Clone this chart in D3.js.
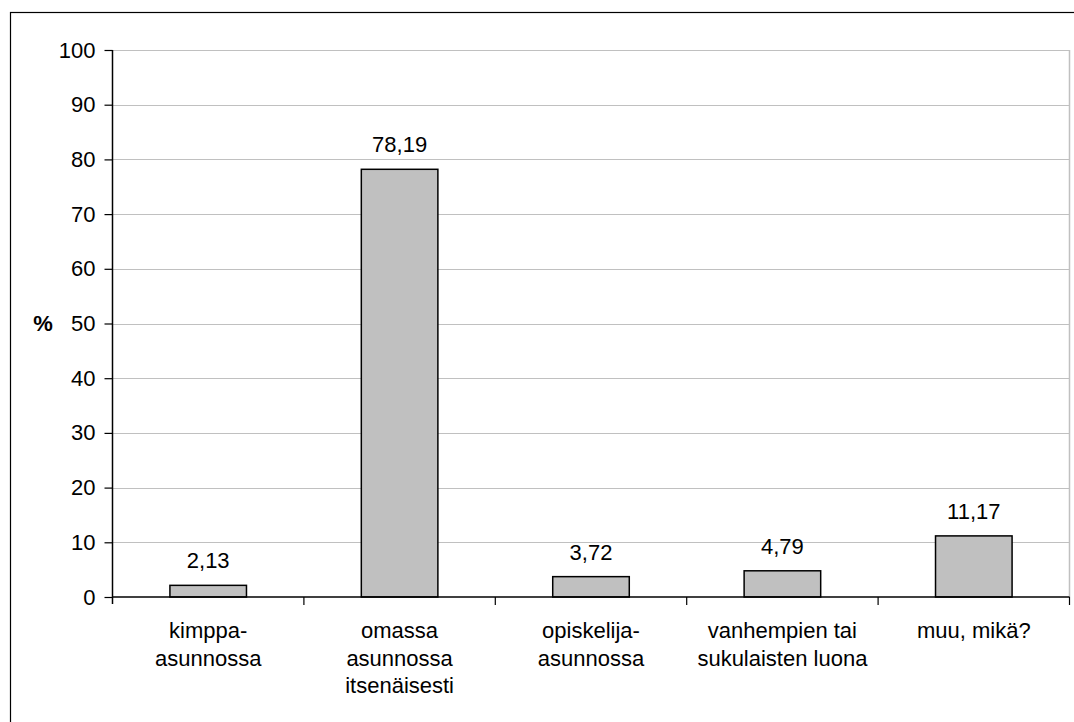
<!DOCTYPE html>
<html>
<head>
<meta charset="utf-8">
<script src="https://cdn.jsdelivr.net/npm/d3@7"></script>
<style>
  html, body { margin: 0; padding: 0; background: #fff; }
  svg { display: block; }
  text { font-family: "Liberation Sans", Arial, sans-serif; fill: #000; }
</style>
</head>
<body>
<svg id="chart" width="1074" height="722"></svg>
<script>
const categories = [
  ["kimppa-", "asunnossa"],
  ["omassa", "asunnossa", "itsenäisesti"],
  ["opiskelija-", "asunnossa"],
  ["vanhempien tai", "sukulaisten luona"],
  ["muu, mikä?"]
];
const values = [2.13, 78.19, 3.72, 4.79, 11.17];
const valueLabels = ["2,13", "78,19", "3,72", "4,79", "11,17"];
const yTicks = [0, 10, 20, 30, 40, 50, 60, 70, 80, 90, 100];
const yAxisTitle = "%";

const svg = d3.select("#chart");
const plotLeft = 112.5, plotRight = 1069.5, plotTop = 50, plotBottom = 597;
const fontSize = 22;

// outer chart border (extends past the viewport on right/bottom)
svg.append("rect")
  .attr("x", 10.5).attr("y", 12.5)
  .attr("width", 1200).attr("height", 800)
  .attr("fill", "none").attr("stroke", "#000").attr("stroke-width", 1.2);

const idx = values.map((d, i) => i);
const x = d3.scaleBand().domain(idx).range([plotLeft, plotRight]).padding(0);
const y = d3.scaleLinear().domain([0, 100]).range([plotBottom, plotTop]);

// gridlines
svg.append("g").selectAll("line").data(yTicks.filter(t => t > 0)).join("line")
  .attr("x1", plotLeft).attr("x2", plotRight)
  .attr("y1", d => Math.round(y(d)) + 0.5).attr("y2", d => Math.round(y(d)) + 0.5)
  .attr("stroke", "#c0c0c0").attr("stroke-width", 1);

// right plot border
svg.append("line")
  .attr("x1", plotRight).attr("x2", plotRight)
  .attr("y1", y(100)).attr("y2", y(0))
  .attr("stroke", "#c0c0c0").attr("stroke-width", 1.5);

// bars
const barW = x.bandwidth() * 0.4;
svg.append("g").selectAll("rect").data(values).join("rect")
  .attr("x", (d, i) => x(i) + x.bandwidth() / 2 - barW / 2)
  .attr("width", barW)
  .attr("y", d => y(d))
  .attr("height", d => y(0) - y(d))
  .attr("fill", "#c0c0c0").attr("stroke", "#000").attr("stroke-width", 1.5);

// value labels
svg.append("g").selectAll("text").data(values).join("text")
  .attr("x", (d, i) => x(i) + x.bandwidth() / 2)
  .attr("y", d => y(d) - 17)
  .attr("text-anchor", "middle")
  .attr("font-size", fontSize)
  .text((d, i) => valueLabels[i]);

// y axis
const yAxis = d3.axisLeft(y).tickValues(yTicks).tickSize(8).tickPadding(9)
  .tickFormat(d3.format("d"));
const gy = svg.append("g").attr("transform", `translate(${plotLeft},0)`).call(yAxis);
gy.select(".domain").attr("stroke", "#000").attr("stroke-width", 1.5)
  .attr("d", `M0,${y(100)}V${y(0) + 7}`);
gy.selectAll(".tick line").attr("stroke", "#000").attr("stroke-width", 1.2);
gy.selectAll(".tick text").attr("font-size", fontSize)
  .attr("font-family", "Liberation Sans, Arial, sans-serif").attr("fill", "#000");

// x axis baseline
svg.append("line")
  .attr("x1", plotLeft).attr("x2", plotRight)
  .attr("y1", y(0)).attr("y2", y(0))
  .attr("stroke", "#000").attr("stroke-width", 1.5);

// x boundary ticks
const bounds = idx.map(i => x(i)).concat([x(idx.length - 1) + x.bandwidth()]);
svg.append("g").selectAll("line").data(bounds.slice(1)).join("line")
  .attr("x1", d => d).attr("x2", d => d)
  .attr("y1", y(0)).attr("y2", y(0) + 8)
  .attr("stroke", "#000").attr("stroke-width", 1.2);

// category labels
const cat = svg.append("g").selectAll("text").data(categories).join("text")
  .attr("text-anchor", "middle")
  .attr("font-size", fontSize)
  .attr("x", (d, i) => x(i) + x.bandwidth() / 2)
  .attr("y", 638);
cat.selectAll("tspan").data(d => d).join("tspan")
  .attr("x", function () { return d3.select(this.parentNode).attr("x"); })
  .attr("dy", (d, j) => j === 0 ? 0 : 27.5)
  .text(d => d);

// y axis title
svg.append("text")
  .attr("x", 43).attr("y", 331)
  .attr("text-anchor", "middle")
  .attr("font-size", fontSize)
  .attr("font-weight", "bold")
  .text(yAxisTitle);
</script>
</body>
</html>
